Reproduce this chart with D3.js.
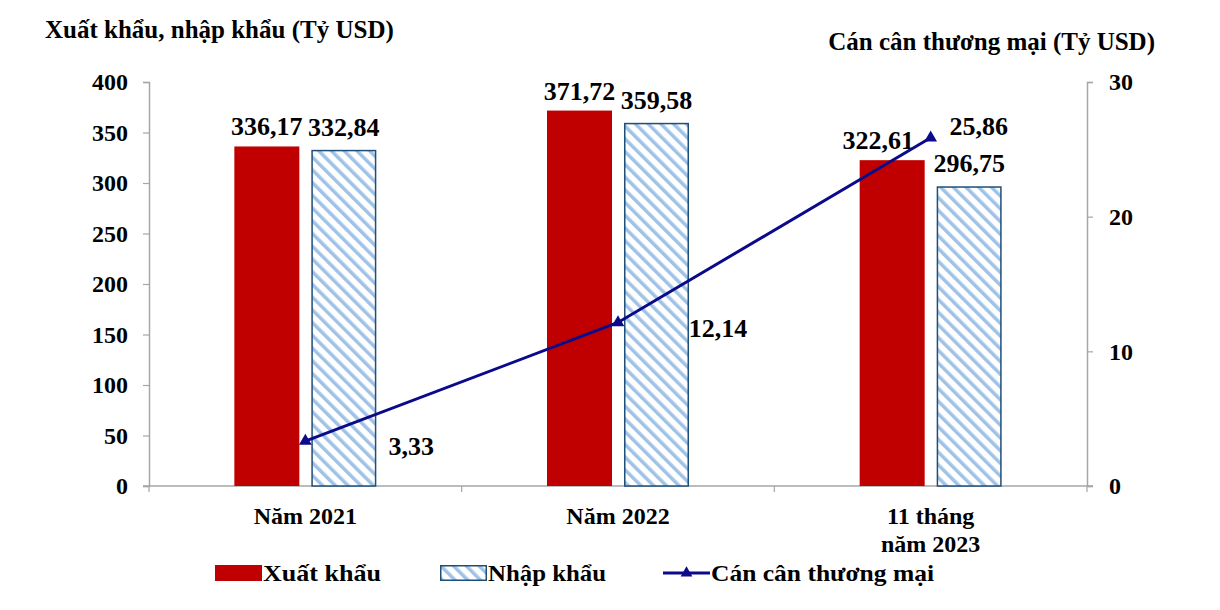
<!DOCTYPE html>
<html><head><meta charset="utf-8">
<script src="https://cdn.jsdelivr.net/npm/d3@7"></script>
<style>body{margin:0;background:#fff}svg{display:block}</style>
</head><body>
<svg id="c" width="1220" height="610"></svg>
<script>
const categories = [["Năm 2021"], ["Năm 2022"], ["11 tháng", "năm 2023"]];
const exportValues = [336.17, 371.72, 322.61];
const importValues = [332.84, 359.58, 296.75];
const balanceValues = [3.33, 12.14, 25.86];
const leftTicks = [0, 50, 100, 150, 200, 250, 300, 350, 400];
const rightTicks = [0, 10, 20, 30];
const seriesNames = ["Xuất khẩu", "Nhập khẩu", "Cán cân thương mại"];

const fmt = v => d3.format(".2f")(v).replace(".", ",");
const svg = d3.select("#c");
const font = "'Liberation Serif','Times New Roman',serif";
const L = 149, R = 1087, T = 82, B = 486;

const x = d3.scaleBand().domain(d3.range(categories.length)).range([L, R]);
const yL = d3.scaleLinear().domain([0, 400]).range([B, T]);
const yR = d3.scaleLinear().domain([0, 30]).range([B, T]);

const defs = svg.append("defs");
const pat = defs.append("pattern").attr("id", "hatch").attr("patternUnits", "userSpaceOnUse")
  .attr("width", 9).attr("height", 9).attr("patternTransform", "rotate(-45)");
pat.append("rect").attr("width", 9).attr("height", 9).attr("fill", "#fff");
pat.append("rect").attr("x", 0).attr("width", 3.5).attr("height", 9).attr("fill", "#9fc2e6");

const axisColor = "#a6a6a6";
const gl = svg.append("g").attr("transform", `translate(${L},0)`)
  .call(d3.axisLeft(yL).tickValues(leftTicks).tickSize(6).tickPadding(15));
const gr = svg.append("g").attr("transform", `translate(${R},0)`)
  .call(d3.axisRight(yR).tickValues(rightTicks).tickSize(6).tickPadding(16));
[gl, gr].forEach(g => {
  g.select(".domain").attr("stroke", axisColor).attr("stroke-width", 1.5);
  g.selectAll(".tick line").attr("stroke", axisColor).attr("stroke-width", 1.2);
  g.selectAll("text").attr("font-family", font).attr("font-weight", "bold")
    .attr("font-size", 24).attr("fill", "#000");
});
const gb = svg.append("g").attr("transform", `translate(0,${B})`);
gb.append("line").attr("x1", L - 6).attr("x2", R + 6).attr("stroke", axisColor).attr("stroke-width", 1.5);
gb.selectAll("line.sep").data(d3.range(categories.length + 1)).join("line").attr("class", "sep")
  .attr("x1", i => L + i * x.step()).attr("x2", i => L + i * x.step())
  .attr("y1", 0).attr("y2", 6).attr("stroke", axisColor).attr("stroke-width", 1.2);
categories.forEach((lines, i) => {
  const t = gb.append("text").attr("x", x(i) + x.bandwidth() / 2).attr("y", 38)
    .attr("text-anchor", "middle").attr("font-family", font).attr("font-weight", "bold")
    .attr("font-size", 24);
  lines.forEach((ln, j) => t.append("tspan").attr("x", x(i) + x.bandwidth() / 2).attr("dy", j ? 28 : 0).text(ln));
});

const bw = 65, gap = 12;
const cx = i => x(i) + x.bandwidth() / 2;
svg.selectAll("rect.ex").data(exportValues).join("rect").attr("class", "ex")
  .attr("x", (d, i) => cx(i) - gap / 2 - bw).attr("width", bw)
  .attr("y", d => yL(d)).attr("height", d => B - yL(d)).attr("fill", "#c00000");
svg.selectAll("rect.im").data(importValues).join("rect").attr("class", "im")
  .attr("x", (d, i) => cx(i) + gap / 2 + 0.75).attr("width", bw - 1.5)
  .attr("y", d => yL(d) + 0.75).attr("height", d => B - yL(d) - 0.75)
  .attr("fill", "url(#hatch)").attr("stroke", "#1f4e79").attr("stroke-width", 1.5);

const lab = (sel) => sel.attr("font-family", font).attr("font-weight", "bold").attr("font-size", 26)
  .attr("fill", "#000").attr("text-anchor", "middle");
const exOff = [0, 0, -14];
svg.selectAll("text.exl").data(exportValues).join("text").attr("class", "exl").call(lab)
  .attr("x", (d, i) => cx(i) - gap / 2 - bw / 2 + exOff[i]).attr("y", d => yL(d) - 11).text(fmt);
svg.selectAll("text.iml").data(importValues).join("text").attr("class", "iml").call(lab)
  .attr("x", (d, i) => cx(i) + gap / 2 + bw / 2).attr("y", d => yL(d) - 14).text(fmt);

const lineColor = "#0a0a8a";
svg.append("path").datum(balanceValues)
  .attr("d", d3.line().x((d, i) => cx(i)).y(d => yR(d)))
  .attr("fill", "none").attr("stroke", lineColor).attr("stroke-width", 3);
svg.selectAll("path.mk").data(balanceValues).join("path").attr("class", "mk")
  .attr("d", d3.symbol(d3.symbolTriangle, 70))
  .attr("transform", (d, i) => `translate(${cx(i)},${yR(d)})`).attr("fill", lineColor);
const balOffsets = [[106, 14], [100, 14], [48, -3]];
svg.selectAll("text.bl").data(balanceValues).join("text").attr("class", "bl").call(lab)
  .attr("x", (d, i) => cx(i) + balOffsets[i][0]).attr("y", (d, i) => yR(d) + balOffsets[i][1]).text(fmt);

svg.append("text").attr("x", 45).attr("y", 38).attr("font-family", font).attr("font-weight", "bold")
  .attr("font-size", 25).text("Xuất khẩu, nhập khẩu (Tỷ USD)");
svg.append("text").attr("x", 1155).attr("y", 50).attr("text-anchor", "end").attr("font-family", font)
  .attr("font-weight", "bold").attr("font-size", 25).text("Cán cân thương mại (Tỷ USD)");

const lg = svg.append("g").attr("transform", "translate(0,573)");
const lgX = [215, 440, 663];
lg.append("rect").attr("x", lgX[0]).attr("y", -8).attr("width", 47).attr("height", 16).attr("fill", "#c00000");
lg.append("rect").attr("x", lgX[1] + 0.75).attr("y", -7.25).attr("width", 45.5).attr("height", 14.5)
  .attr("fill", "url(#hatch)").attr("stroke", "#1f4e79").attr("stroke-width", 1.5);
lg.append("line").attr("x1", lgX[2]).attr("x2", lgX[2] + 47).attr("stroke", lineColor).attr("stroke-width", 3);
lg.append("path").attr("d", d3.symbol(d3.symbolTriangle, 60)).attr("transform", `translate(${lgX[2] + 23.5},0)`).attr("fill", lineColor);
seriesNames.forEach((n, i) => {
  lg.append("text").attr("x", lgX[i] + 48).attr("y", 8).attr("font-family", font).attr("font-weight", "bold")
    .attr("font-size", 24).attr("textLength", [118, 118, 223][i]).attr("lengthAdjust", "spacingAndGlyphs").text(n);
});
</script>
</body></html>
